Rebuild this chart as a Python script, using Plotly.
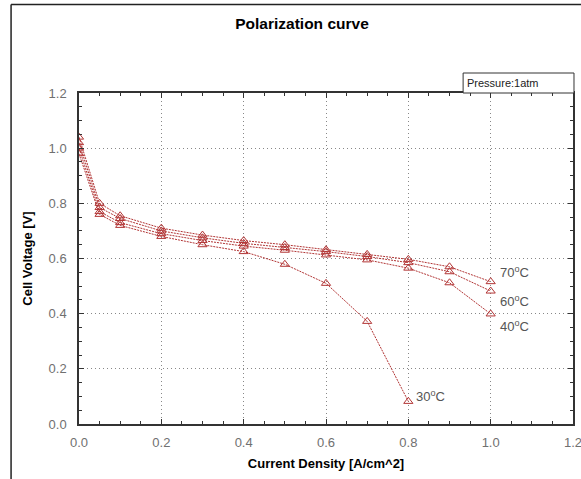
import plotly.graph_objects as go

current_density = [0.0, 0.05, 0.1, 0.2, 0.3, 0.4, 0.5, 0.6, 0.7, 0.8, 0.9, 1.0]
v_70c = [1.04, 0.80, 0.755, 0.71, 0.685, 0.665, 0.65, 0.632, 0.615, 0.597, 0.570, 0.516]
v_60c = [1.02, 0.785, 0.745, 0.70, 0.675, 0.655, 0.640, 0.625, 0.607, 0.585, 0.552, 0.482]
v_40c = [1.00, 0.770, 0.730, 0.690, 0.665, 0.645, 0.630, 0.613, 0.595, 0.565, 0.512, 0.399]
current_density_30 = [0.0, 0.05, 0.1, 0.2, 0.3, 0.4, 0.5, 0.6, 0.7, 0.8]
v_30c = [0.98, 0.760, 0.720, 0.680, 0.650, 0.625, 0.579, 0.510, 0.372, 0.082]

series = [
    ("70", current_density, v_70c),
    ("60", current_density, v_60c),
    ("40", current_density, v_40c),
    ("30", current_density_30, v_30c),
]
label_pos = {"70": (1.018, 0.551), "60": (1.018, 0.446), "40": (1.018, 0.355), "30": (0.814, 0.10)}

RED = "#b23535"
FONT = "Liberation Sans, Arial, sans-serif"

fig = go.Figure()
for name, xs, ys in series:
    fig.add_trace(go.Scatter(
        x=xs, y=ys, mode="lines+markers", name=name + "°C",
        line=dict(color=RED, width=1, dash="2px,1px"),
        marker=dict(symbol="triangle-up-open", size=8, color=RED, line=dict(width=1, color=RED)),
        showlegend=False,
    ))
    lx, ly = label_pos[name]
    fig.add_annotation(x=lx, y=ly, xref="x", yref="y", text=name + "<sup>o</sup>C",
                       showarrow=False, xanchor="left", yanchor="middle",
                       font=dict(family=FONT, size=13, color="#555555"))

axis_common = dict(
    showline=True, linecolor="#333333", linewidth=1.5, mirror="allticks",
    ticks="inside", ticklen=5, tickcolor="#333333", tickwidth=1.2,
    showgrid=True, gridcolor="#888888", griddash="1px,3px", gridwidth=1,
    zeroline=False, tickformat=".1f", dtick=0.2, automargin=False,
    ticklabeloverflow="allow",
    tickfont=dict(family=FONT, size=13, color="#707070"),
    minor=dict(ticks="inside", ticklen=3, dtick=0.05, tickcolor="#333333", showgrid=False),
)

L, R, T, B = 78.5, 8, 93, 55
W, H = 581, 479
pw, ph = W - L - R, H - T - B

fig.update_layout(
    width=W, height=H,
    margin=dict(l=L, r=R, t=T, b=B),
    paper_bgcolor="white", plot_bgcolor="white",
    title=dict(text="<b>Polarization curve</b>", x=302 / W, xref="container", xanchor="center",
               y=1 - 24 / H, yref="container", yanchor="middle",
               font=dict(family=FONT, size=15.5, color="#000000")),
    xaxis=dict(range=[0, 1.2], ticklabelstandoff=6,
               title=dict(text="<b>Current Density [A/cm^2]</b>", standoff=10,
                          font=dict(family=FONT, size=13, color="#000000")), **axis_common),
    yaxis=dict(range=[0, 1.2], ticklabelstandoff=8,
               title=dict(text="<b>Cell Voltage [V]</b>", standoff=13,
                          font=dict(family=FONT, size=13, color="#000000")), **axis_common),
)

# pressure box (rectangle + text)
bx0, bx1 = (463 - L) / pw, (574 - L) / pw
by0, by1 = 1.0, (H - B - 73) / ph
fig.add_shape(type="rect", xref="paper", yref="paper", x0=bx0, x1=bx1, y0=by0, y1=by1,
              line=dict(color="#333333", width=1), fillcolor="white", layer="above")
fig.add_annotation(x=(465 - L) / pw, y=(by0 + by1) / 2, xref="paper", yref="paper",
                   xanchor="left", yanchor="middle", text="Pressure:1atm", showarrow=False,
                   font=dict(family=FONT, size=11, color="#222222"))

# outer frame (top and left edges)
x_left = (10.5 - L) / pw
y_top = (H - B - 4.5) / ph
fig.add_shape(type="line", xref="paper", yref="paper", x0=x_left, x1=(W - L) / pw, y0=y_top, y1=y_top,
              line=dict(color="#222222", width=1.5))
fig.add_shape(type="line", xref="paper", yref="paper", x0=x_left, x1=x_left, y0=y_top, y1=-B / ph,
              line=dict(color="#222222", width=1.5))

fig.write_html("out.html", config={"displayModeBar": False},
               post_script="document.body.style.margin='0';document.body.style.overflow='hidden';")
